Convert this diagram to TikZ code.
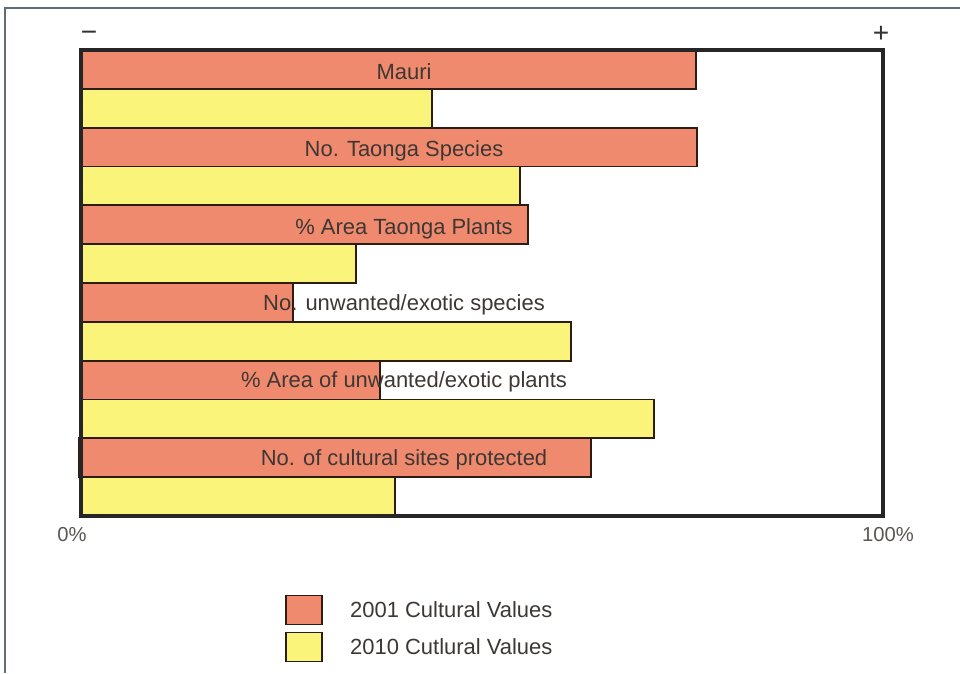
\documentclass[tikz,border=0pt]{standalone}
\usepackage{fontspec}
\setmainfont{Liberation Sans}
\usetikzlibrary{positioning}

\definecolor{salmon}{RGB}{239,138,110}
\definecolor{lemon}{RGB}{250,244,122}
\definecolor{barline}{RGB}{45,28,20}
\definecolor{sheetline}{RGB}{95,108,120}
\definecolor{inkgrey}{RGB}{62,55,52}

\begin{document}
\begin{tikzpicture}
    [
      x=0.02cm,y=-0.02cm,
      past/.style={draw=barline,fill=salmon,line width=1.1pt},
      recent/.style={draw=barline,fill=lemon,line width=1.1pt},
      frame/.style={draw=black!85,line width=1.8pt},
      value/.style={text=inkgrey,font=\fontsize{12.5}{15}\selectfont},
      tick/.style={text=inkgrey!85,font=\fontsize{11.5}{14}\selectfont},
      sign/.style={text=black!80,font=\fontsize{16}{18}\selectfont},
      keybox/.style={minimum width=0.72cm,minimum height=0.58cm,inner sep=0pt},
    ]

    \useasboundingbox (0,0) rectangle (960,673);
    \draw [sheetline,line width=0.9pt] (5,673) -- (5,8) -- (960,8);

    % bars, top to bottom
    \filldraw [past]   (81,50)    rectangle (696,88.8);
    \filldraw [recent] (81,88.8)  rectangle (432,127.7);
    \filldraw [past]   (81,127.7) rectangle (697,166.5);
    \filldraw [recent] (81,166.5) rectangle (520,205.3);
    \filldraw [past]   (81,205.3) rectangle (528,244.2);
    \filldraw [recent] (81,244.2) rectangle (356,283);
    \filldraw [past]   (81,283)   rectangle (293,321.8);
    \filldraw [recent] (81,321.8) rectangle (571,360.7);
    \filldraw [past]   (81,360.7) rectangle (380,399.5);
    \filldraw [recent] (81,399.5) rectangle (654,438.3);
    \filldraw [past]   (79,438.3) rectangle (591,477.2);
    \filldraw [recent] (81,477.2) rectangle (395,516);

    \draw [frame] (81,50) rectangle (883,516);

    \node (mauri) [value] at (404,72) {Mauri};
    \node (species) [value] at (404,151) {No. Taonga Species};
    \node (plants) [value] at (404,229) {\% Area Taonga Plants};
    \node (pests) [value] at (404,305) {No. unwanted/exotic species};
    \node (weeds) [value] at (404,382) {\% Area of unwanted/exotic plants};
    \node (sites) [value] at (404,460) {No. of cultural sites protected};

    \node (minus) [sign] at (89,36) {\textminus};
    \node (plus) [sign] at (881,34) {+};
    \node (zero) [tick] at (72,535) {0\%};
    \node (full) [tick] at (888,535) {100\%};

    % legend
    \node (key-2001) [keybox,past] at (304,610) {};
    \node (key-2001-text) [value,right=0.42cm of key-2001] {2001 Cultural Values};
    \node (key-2010) [keybox,recent] at (304,647) {};
    \node (key-2010-text) [value,right=0.42cm of key-2010] {2010 Cutlural Values};

\end{tikzpicture}
\end{document}
